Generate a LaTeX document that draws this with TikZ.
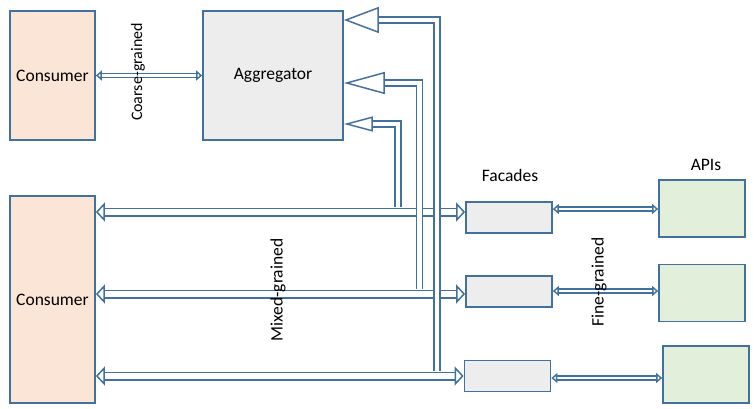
\documentclass[tikz,border=0pt]{standalone}
\usepackage{fontspec}
\setmainfont{Carlito}
\usetikzlibrary{arrows.meta, positioning}

\definecolor{edgeblue}{RGB}{65,113,156}
\definecolor{consumerfill}{RGB}{251,229,214}
\definecolor{greyfill}{RGB}{237,237,237}
\definecolor{apifill}{RGB}{226,239,218}

\begin{document}
\begin{tikzpicture}[x=1pt, y=-1pt,
		font=\fontsize{17.5}{20}\selectfont,
		box/.style={draw=edgeblue, line width=1.7pt, inner sep=0pt},
		consumer/.style={box, fill=consumerfill, minimum width=85pt},
		aggregator/.style={box, fill=greyfill, minimum width=140pt, minimum height=129pt},
		facade/.style={box, fill=greyfill, minimum width=86pt, minimum height=31pt},
		api/.style={box, fill=apifill, minimum width=86pt, minimum height=57pt},
		grain/.style={rotate=90},
		pipe/.style={draw=edgeblue, line width=1.5pt, double=white, double distance=#1},
		thinpipe/.style={pipe=2.2pt, {Triangle[open, line width=1.4pt, width=10pt, length=6pt]}-{Triangle[open, line width=1.4pt, width=10pt, length=6pt]}},
		widepipe/.style={pipe=6pt, {Triangle[open, line width=1.5pt, width=19pt, length=9pt]}-{Triangle[open, line width=1.5pt, width=19pt, length=9pt]}},
		feedpipe/.style 2 args={pipe=4.5pt, -{Triangle[open, line width=1.5pt, width=#1, length=#2]}}]
		\useasboundingbox (0,0) rectangle (754,409);
		% consumers and aggregator
		\node [consumer, minimum height=129pt] (consumer1) at (52.5,75.5) {Consumer};
		\node [aggregator] (aggregator) at (273,75.5) {Aggregator};
		\node [consumer, minimum height=207pt] (consumer2) at (52.5,299.5) {Consumer};
		% facades and APIs
		\node [facade] (facade1) at (509,217.5) {};
		\node [facade] (facade2) at (509,291.5) {};
		\node [facade] (facade3) at (507.5,376) {};
		\node [api] (api1) at (702,208.5) {};
		\node [api] (api2) at (702,293) {};
		\node [api] (api3) at (706,374.5) {};
		\node (facades) at (510,175) {Facades};
		\node (apis) at (706,165) {APIs};
		% coarse-grained link
		\draw [thinpipe] (consumer1.east) -- (aggregator.west);
		% mixed-grained links
		\draw [widepipe] (consumer2.east |- 0,212) -- (facade1.west |- 0,212);
		\draw [widepipe] (consumer2.east |- 0,294) -- (facade2.west |- 0,294);
		\draw [widepipe] (consumer2.east |- 0,376) -- (facade3.west |- 0,376);
		% fine-grained links
		\draw [thinpipe] (facade1.east |- 0,209) -- (api1.west |- 0,209);
		\draw [thinpipe] (facade2.east |- 0,291) -- (api2.west |- 0,291);
		\draw [thinpipe] (facade3.east |- 0,378) -- (api3.west |- 0,378);
		% feeds into the aggregator
		\coordinate (feed1) at (398,207);
		\coordinate (feed2) at (419.5,289);
		\coordinate (feed3) at (437,371);
		\draw [feedpipe={15pt}{29pt}] (feed1) |- (aggregator.east |- 0,124);
		\draw [feedpipe={22pt}{41pt}] (feed2) |- (aggregator.east |- 0,83);
		\draw [feedpipe={26pt}{35pt}] (feed3) |- (aggregator.east |- 0,20);
		% labels
		\node [grain, font=\fontsize{16}{20}\selectfont] (coarse) at (138,72) {Coarse-grained};
		\node [grain] (mixed) at (278,290) {Mixed-grained};
		\node [grain] (fine) at (599,282) {Fine-grained};
	\end{tikzpicture}
\end{document}
